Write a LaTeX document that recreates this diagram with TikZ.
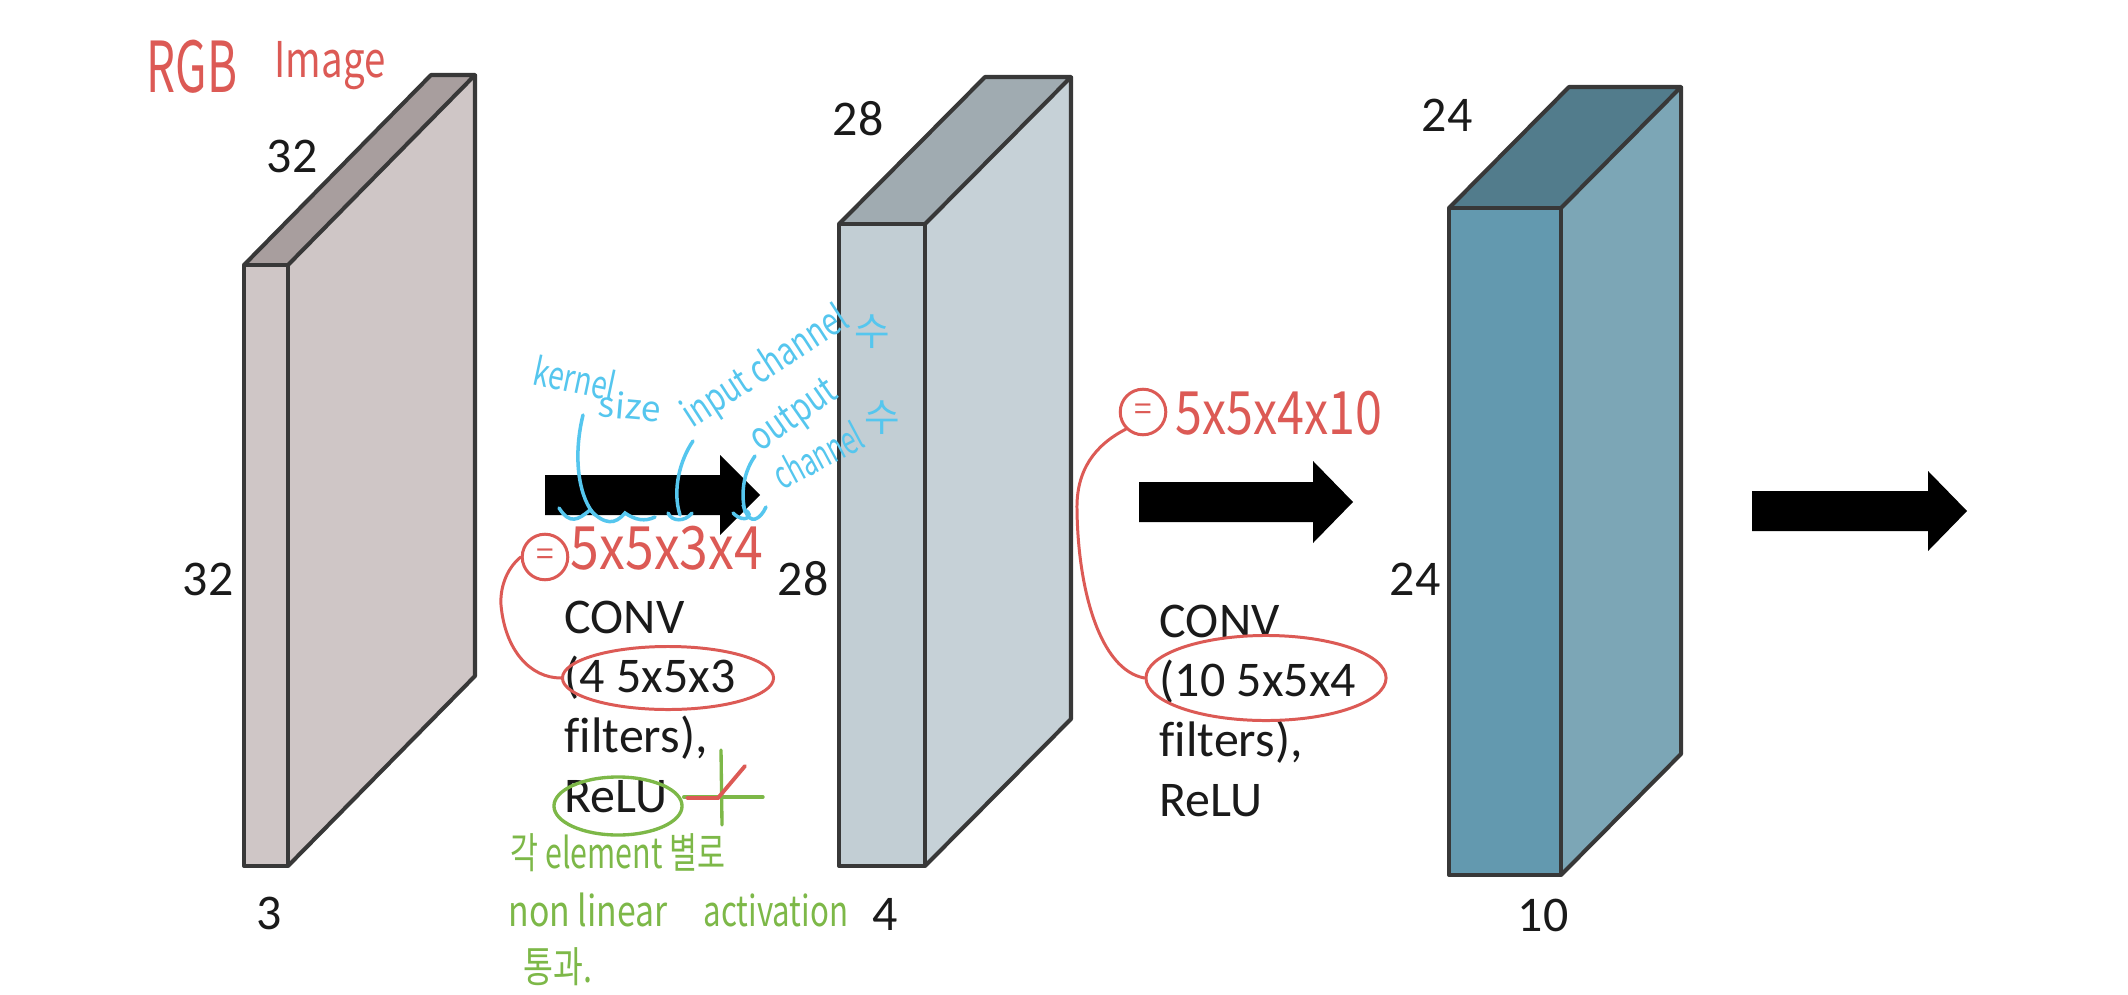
\documentclass[tikz,border=0pt]{standalone}
\usepackage{fontspec}
\usepackage{graphicx}
\usetikzlibrary{shapes.geometric}
\setmainfont[Ligatures=NoCommon]{Carlito}
\newfontfamily\hand{Noto Sans CJK KR}
\definecolor{ink}{HTML}{1A1A1A}
\definecolor{redpen}{HTML}{DC5A55}
\definecolor{bluepen}{HTML}{55C6EE}
\definecolor{greenpen}{HTML}{7DB848}
\definecolor{afront}{HTML}{CFC6C6}
\definecolor{atop}{HTML}{A89E9E}
\definecolor{bfront}{HTML}{C2CED4}
\definecolor{btop}{HTML}{A0ABB1}
\definecolor{bside}{HTML}{C6D1D7}
\definecolor{cfront}{HTML}{6399AF}
\definecolor{ctop}{HTML}{527C8C}
\definecolor{cside}{HTML}{7CA6B6}
\tikzset{
  x=0.01cm,y=-0.01cm,
  edge/.style={draw=black!78,line width=1.15pt,line join=round},
  lab/.style={font=\fontsize{14.2}{17}\selectfont,text=ink,inner sep=0pt},
  body/.style={font=\fontsize{14.2}{17}\selectfont,text=ink,inner sep=0pt,align=left,anchor=north west},
  redtxt/.style={text=redpen,inner sep=0pt},
  bluetxt/.style={text=bluepen,inner sep=0pt},
  greentxt/.style={text=greenpen,inner sep=0pt},
  redln/.style={draw=redpen,line width=0.85pt,line cap=round},
  blueln/.style={draw=bluepen,line width=1pt,line cap=round},
  greenln/.style={draw=greenpen,line width=0.95pt,line cap=round},
  bigarrow/.style={fill=black,draw=none},
}
\newcommand{\hf}[1]{\hand\fontsize{#1}{#1}\selectfont}
\newcommand{\nr}[2]{\scalebox{#1}[1]{#2}}
\newcommand{\volume}[9]{%
  \fill[#9] (#2,#3) -- (#2+#5,#3-#6) -- (#2+#5,#4-#6) -- (#2,#4) -- cycle;
  \fill[#8] (#1,#3) -- (#1+#5,#3-#6) -- (#2+#5,#3-#6) -- (#2,#3) -- cycle;
  \fill[#7] (#1,#3) rectangle (#2,#4);
  \draw[edge] (#1,#3) rectangle (#2,#4);
  \draw[edge] (#1,#3) -- (#1+#5,#3-#6) -- (#2+#5,#3-#6) -- (#2,#3);
  \draw[edge] (#2+#5,#3-#6) -- (#2+#5,#4-#6) -- (#2,#4);
}
\newcommand{\fatarrow}[6]{%
  \fill[bigarrow] (#1,#4-#5) -- (#2,#4-#5) -- (#2,#4-#6) -- (#3,#4) -- (#2,#4+#6) -- (#2,#4+#5) -- (#1,#4+#5) -- cycle;
}
\begin{document}
\begin{tikzpicture}
\useasboundingbox (0,0) rectangle (2128,994);
\fill[white] (0,0) rectangle (2128,994);

% volumes
\volume{244}{288}{265}{866}{187}{190}{afront}{atop}{afront}
\volume{839}{925}{224}{866}{146}{147}{bfront}{btop}{bside}
\volume{1449}{1561}{208}{875}{120}{121}{cfront}{ctop}{cside}

% black arrows
\fatarrow{545}{720}{760}{495}{20}{40}
\fatarrow{1139}{1313}{1353}{502}{20}{41}
\fatarrow{1752}{1928}{1967}{511}{20}{40}

% dimension labels
\node[lab] (d1) at (292,156) {32};
\node[lab] (d2) at (208,579) {32};
\node[lab] (d3) at (269,913) {3};
\node[lab] (d4) at (858,119) {28};
\node[lab] (d5) at (803,579) {28};
\node[lab] (d6) at (885,914) {4};
\node[lab] (d7) at (1447,115) {24};
\node[lab] (d8) at (1415,579) {24};
\node[lab] (d9) at (1543,915) {10};

% layer captions
\node[body] (conv1) at (564,600) {CONV\\(4 5x5x3\\filters),\\ReLU};
\node[body] (conv2) at (1159,604) {CONV\\(10 5x5x4\\filters),\\ReLU};

% red notes
\node[redtxt,font=\hf{20}] (rgb) at (192,67) {\nr{0.65}{RGB}};
\node[redtxt,font=\hf{14}] (img) at (330,66) {\nr{0.78}{Image}};
\node[redln,draw,circle,minimum size=36pt*0.36,inner sep=0pt,font=\hf{9},text=redpen] (eq1) at (545,557) {=};
\node[redtxt,font=\hf{17}] (calc1) at (667,548) {\nr{0.865}{5x5x3x4}};
\node[redln,draw,circle,minimum size=36pt*0.36,inner sep=0pt,font=\hf{9},text=redpen] (eq2) at (1143,412) {=};
\node[redtxt,font=\hf{17}] (calc2) at (1279,413) {\nr{0.81}{5x5x4x10}};
\node[redln,draw,ellipse,minimum width=211*0.2845pt,minimum height=63*0.2845pt,inner sep=0pt] (oval1) at (668,678) {};
\node[redln,draw,ellipse,minimum width=240*0.2845pt,minimum height=85*0.2845pt,inner sep=0pt] (oval2) at (1266,678) {};
\draw[redln] (eq1.west) .. controls (505,570) and (500,590) .. (501,605) .. controls (505,650) and (530,678) .. (oval1.west);
\draw[redln] (eq2.south west) .. controls (1095,445) and (1076,470) .. (1077,510) .. controls (1078,590) and (1100,670) .. (oval2.west);

% blue notes
\node[bluetxt,font=\hf{11},rotate=-12] (kern) at (575,378) {\nr{0.73}{kernel}};
\node[bluetxt,font=\hf{10},rotate=-5] (sz) at (630,406) {size};
\node[bluetxt,font=\hf{11},rotate=33] (inp) at (766,368) {\nr{0.76}{input channel}};
\node[bluetxt,font=\hf{11}] (su1) at (872,332) {수};
\node[bluetxt,font=\hf{11},rotate=35] (outp) at (795,417) {\nr{0.78}{output}};
\node[bluetxt,font=\hf{11},rotate=28] (chan) at (818,455) {\nr{0.66}{channel}};
\node[bluetxt,font=\hf{11}] (su2) at (882,418) {수};
\draw[blueln] (583,415) .. controls (572,460) and (580,500) .. (595,515);
\draw[blueln] (559,508) .. controls (570,525) and (578,520) .. (590,510) .. controls (605,525) and (615,525) .. (625,513) .. controls (635,520) and (645,522) .. (655,517);
\draw[blueln] (693,441) .. controls (680,460) and (672,490) .. (680,515);
\draw[blueln] (668,513) .. controls (672,522) and (685,522) .. (692,513);
\draw[blueln] (755,456) .. controls (745,470) and (740,490) .. (745,512);
\draw[blueln] (733,513) .. controls (745,525) and (755,515) .. (745,510) .. controls (750,525) and (760,520) .. (766,507);

% green notes
\node[greenln,draw,ellipse,minimum width=128*0.2845pt,minimum height=58*0.2845pt,inner sep=0pt] (oval3) at (618,806) {};
\coordinate (axR) at (763,797);
\coordinate (axT) at (721,750);
\coordinate (axB) at (722,825);
\coordinate (rlS) at (687,798);
\coordinate (rlM) at (718,798);
\coordinate (rlE) at (745,766);
\draw[greenln] (oval3.east) ++(0,-9) -- (axR);
\draw[greenln] (axT) -- (axB);
\draw[draw=redpen,line width=1.1pt,line cap=round] (rlS) -- (rlM) -- (rlE);
\node[greentxt,font=\hf{12},anchor=west] (g1) at (510,853) {\nr{0.72}{각 element 별로}};
\node[greentxt,font=\hf{12},anchor=west] (g2) at (508,910) {\nr{0.8}{non linear}};
\node[greentxt,font=\hf{12},anchor=west] (g3) at (703,910) {\nr{0.74}{activation}};
\node[greentxt,font=\hf{12},anchor=west] (g4) at (523,967) {\nr{0.77}{통과.}};
\end{tikzpicture}
\end{document}
